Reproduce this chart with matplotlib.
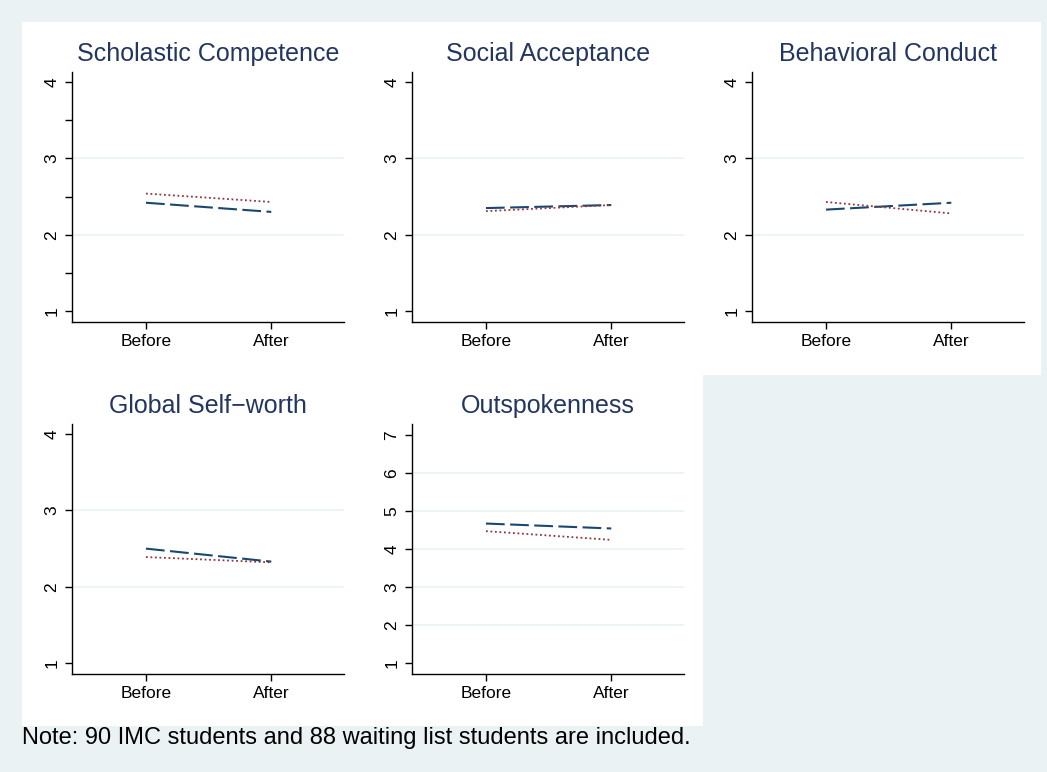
import matplotlib.pyplot as plt
from matplotlib.patches import Rectangle

plt.rcParams['font.family'] = ['Liberation Sans', 'DejaVu Sans']

# data
titles = ['Scholastic Competence', 'Social Acceptance', 'Behavioral Conduct',
          'Global Self\u2212worth', 'Outspokenness']
periods = ['Before', 'After']
imc = [[2.42, 2.30], [2.35, 2.39], [2.33, 2.42], [2.50, 2.33], [4.67, 4.54]]
waiting = [[2.54, 2.43], [2.31, 2.39], [2.43, 2.28], [2.39, 2.32], [4.47, 4.24]]
yticks = [[1, 2, 3, 4]] * 4 + [[1, 2, 3, 4, 5, 6, 7]]
ylims = [(0.86, 4.13)] * 4 + [(0.71, 7.29)]

W, H = 1047, 772
bg = '#eaf2f3'
navy = '#1a476f'
maroon = '#90353b'

fig = plt.figure(figsize=(W / 100, H / 100), dpi=100, facecolor=bg)

def px(x0, y0, x1, y1):
    # pixel box (top-left origin) -> figure fraction
    return [x0 / W, 1 - y1 / H, (x1 - x0) / W, (y1 - y0) / H]

# white panels behind the graphs
for box in [(22, 22, 1041, 375), (22, 375, 703, 726)]:
    l, b, w, h = px(*box)
    fig.patches.append(Rectangle((l, b), w, h, transform=fig.transFigure,
                                 facecolor='white', edgecolor='none', zorder=-5))

for i, t in enumerate(titles):
    col, row = i % 3, i // 3
    x0 = 72 + 340 * col
    y0 = 72 + 352 * row
    ax = fig.add_axes(px(x0, y0, x0 + 272, y0 + 250))
    ax.set_zorder(1)
    ax.set_facecolor('white')
    xs = [1, 2]
    ax.plot(xs, imc[i], color=navy, lw=1.5, linestyle=(0, (9, 2.6)), zorder=3)
    ax.plot(xs, waiting[i], color=maroon, lw=1.3, linestyle=(0, (1, 1.5)), zorder=3)
    ax.set_xlim(0.41, 2.58)
    ax.set_ylim(*ylims[i])
    ax.set_xticks(xs)
    ax.set_xticklabels(periods, fontsize=12.5)
    ax.set_yticks(yticks[i])
    ax.set_yticklabels([str(v) for v in yticks[i]], fontsize=12.5, rotation=90, va='center')
    if i == 0:
        ax.set_yticks([1.5, 2.5, 3.5], minor=True)
        ax.tick_params(axis='y', which='minor', length=5, width=1)
    for g in yticks[i][1:-1]:
        ax.axhline(g, color=bg, lw=1.2, zorder=1)
    for s in ['top', 'right']:
        ax.spines[s].set_visible(False)
    for s in ['left', 'bottom']:
        ax.spines[s].set_linewidth(1)
    ax.tick_params(length=5, width=1, pad=4)
    ax.set_title(t, fontsize=18, color='#233660', pad=8)

fig.text(22 / W, 1 - 738 / H, 'Note: 90 IMC students and 88 waiting list students are included.',
         fontsize=17, va='center', ha='left')

fig.savefig('out.png', dpi=100, facecolor=bg)
